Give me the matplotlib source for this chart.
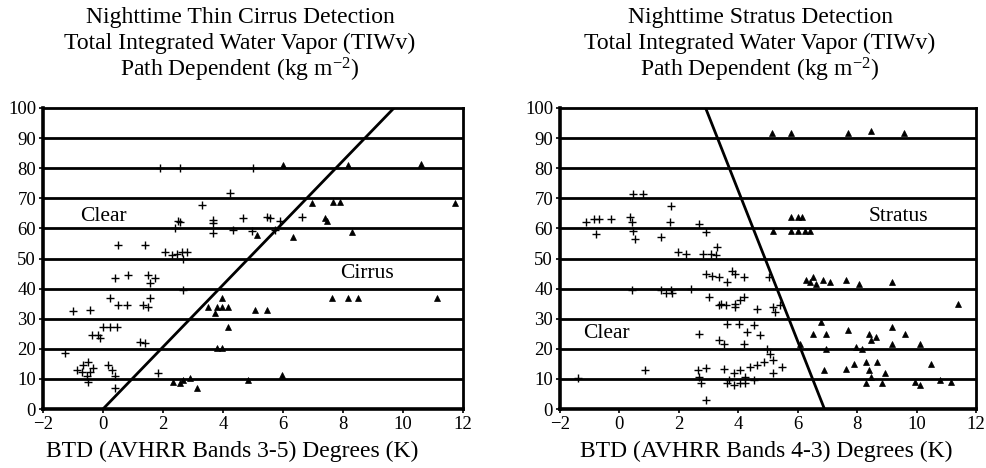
import matplotlib
matplotlib.use("Agg")
import matplotlib.pyplot as plt
import numpy as np

plt.rcParams['font.family'] = ['Liberation Serif', 'DejaVu Serif']
plt.rcParams['mathtext.fontset'] = 'custom'
plt.rcParams['mathtext.rm'] = 'Liberation Serif'
plt.rcParams['mathtext.it'] = 'Liberation Serif:italic'

# ---------------- Nighttime thin cirrus (BTD bands 3-5) ----------------
cirrus_clear_x = [0.51, 1.4, 2.07, 2.29, 2.46, 2.62, 2.79, 2.68,
                  0.4, 0.84, 1.51, 1.73, 1.57,
                  0.23, 0.51, 0.79, 1.34, 1.57, 1.51,
                  -0.99, -0.43, 0.01, 0.23, 0.46, -0.38, -0.16, -0.1,
                  -1.27, 1.23, 1.4,
                  -0.88, -0.66, -0.49, -0.43, -0.54, -0.32, -0.49, -0.71,
                  0.18, 0.29, 0.4, 0.4, 1.84,
                  2.51, 2.4, 3.68, 3.68, 4.34, 4.68, 4.96, 5.46, 5.57, 5.9, 5.73, 6.62,
                  3.29, 4.23, 1.9, 2.57, 5.0, 2.57, 3.67, 2.68]
cirrus_clear_y = [54.5, 54.5, 52, 51, 51.5, 52.3, 52.3, 49.7,
                  43.4, 44.5, 44.5, 43.4, 41.8,
                  36.8, 34.6, 34.6, 34.6, 36.8, 34,
                  32.4, 32.9, 27.4, 27.4, 27.4, 24.6, 24.6, 23.5,
                  18.5, 22.4, 21.8,
                  13, 14.6, 15.7, 12.4, 10.8, 13.5, 9.1, 12.4,
                  14.6, 13, 10.8, 6.9, 11.9,
                  62.3, 60, 62.8, 58.4, 59.5, 63.4, 59, 63.9, 63.4, 62.3, 59.5, 63.9,
                  67.8, 71.7, 80, 80, 80, 62, 61.8, 39.6]

cirrus_cloud_x = [6.96, 7.68, 7.9, 11.75, 7.4, 7.46, 5.12, 6.34, 8.29,
                  3.96, 3.51, 3.79, 3.96, 4.18, 3.73, 4.18, 5.07, 5.46,
                  7.62, 8.18, 8.51, 11.12, 3.79, 3.96,
                  2.34, 2.68, 2.9, 3.12, 2.57, 4.84, 5.96,
                  6.0, 8.17, 10.6]
cirrus_cloud_y = [68.3, 68.9, 68.9, 68.5, 63.4, 62.3, 57.8, 57.3, 58.9,
                  36.8, 34, 34, 34, 34, 31.8, 27.4, 32.9, 32.9,
                  36.8, 36.8, 36.8, 36.8, 20.2, 20.2,
                  9.1, 9.7, 10.2, 6.9, 8.5, 9.7, 11.3,
                  81, 81, 81.5]

cirrus_threshold_x = [0.0, 9.7]
cirrus_threshold_y = [0, 100]

# ---------------- Nighttime stratus (BTD bands 4-3) ----------------
stratus_clear_x = [-1.13, -0.86, -0.69, -0.3, 0.36, 0.42, 0.47, 0.53, -0.8, 1.41, 1.69,
                   2.69, 2.91, 1.75, 0.47, 0.8,
                   1.97, 2.25, 2.8, 3.08, 3.3, 3.24,
                   2.91, 3.13, 3.35, 3.63, 3.9, 4.19, 3.8, 0.42, 1.41, 1.75, 2.41, 5.02,
                   1.56, 1.77,
                   3.02, 3.35, 3.58, 3.9, 4.07, 4.19, 4.63, 5.18, 5.24, 5.4, 3.42, 3.89,
                   2.69, 3.63, 4.02, 4.3, 4.52, 4.74, 3.35, 3.52, 4.19, 4.96, 5.07,
                   5.18, 4.85, 4.63,
                   0.86, 2.63, 2.69, 2.74, 2.91, 3.52, 3.69, 3.85, 4.07, 4.24, 4.41,
                   4.52, 4.07, 3.63, 4.24, 3.85, 5.18, 5.46, -1.4, 2.93]
stratus_clear_y = [62, 63.1, 63.1, 63.1, 63.7, 62, 59.2, 56.5, 58.1, 57, 62,
                   61.5, 58.7, 67.5, 71.4, 71.4,
                   52, 51.5, 51.5, 51.5, 53.7, 51,
                   44.9, 44.3, 43.8, 42.1, 44.9, 43.8, 46, 39.4, 39.4, 39.4, 40, 43.8,
                   38.7, 38.7,
                   37.2, 34.4, 34.4, 33.9, 36.1, 37.2, 33.3, 33.9, 32.2, 34.4, 35, 35,
                   25, 28.3, 28.3, 25.6, 27.8, 24.5, 22.8, 21.7, 21.7, 20, 18.4,
                   16.2, 15.7, 14.5,
                   12.9, 12.9, 10.7, 8.5, 3, 13.4, 9.6, 11.8, 12.9, 10.7, 14,
                   9.6, 8.5, 8.5, 8.5, 7.9, 11.8, 14, 10.2, 13.6]

stratus_cloud_x = [5.15, 5.76, 7.7, 8.48, 9.58,
                   5.79, 6.0, 6.13, 5.18, 5.79, 6.0, 6.24, 6.4,
                   6.29, 6.51, 6.4, 6.85, 7.07, 7.62, 8.07, 9.17, 6.62,
                   11.39,
                   6.79, 6.51, 6.96, 7.68, 8.4, 8.62, 9.17, 9.62, 6.07, 6.96, 7.96,
                   8.18, 9.17, 10.12, 8.45,
                   6.9, 7.62, 7.9, 8.29, 8.68, 8.4, 8.45, 8.95, 8.29, 8.84, 9.95,
                   10.12, 10.5, 10.78, 11.17]
stratus_cloud_y = [91.8, 91.8, 91.8, 92.4, 91.8,
                   63.7, 63.7, 63.7, 59.2, 59.2, 59.2, 59.2, 59.2,
                   42.7, 43.8, 42.1, 42.7, 42.1, 42.7, 41.6, 42.1, 41.6,
                   35,
                   28.9, 25, 25, 26.1, 25, 23.9, 27.2, 25, 21.7, 20, 20.6,
                   20, 21.7, 21.7, 22.8,
                   12.9, 13.4, 15.1, 15.7, 15.7, 12.9, 10.7, 11.8, 8.5, 8.5, 9,
                   7.9, 15.1, 9.6, 9]

stratus_threshold_x = [2.9, 6.9]
stratus_threshold_y = [100, 0]

x_ticks = [-2, 0, 2, 4, 6, 8, 10, 12]
y_ticks = [0, 10, 20, 30, 40, 50, 60, 70, 80, 90, 100]

title_line2 = "Total Integrated Water Vapor (TIWv)"
title_line3 = "Path Dependent (kg m$^{-2}$)"

W, H = 987, 468
fig = plt.figure(figsize=(W / 100, H / 100), dpi=100)
ax1 = fig.add_axes([43 / W, 59 / H, 420 / W, 301 / H])
ax2 = fig.add_axes([560 / W, 59 / H, 416 / W, 301 / H])


def style_panel(ax):
    ax.set_xlim(-2, 12)
    ax.set_ylim(0, 100)
    ax.set_xticks(x_ticks)
    ax.set_yticks(y_ticks)
    ax.set_xticklabels(["\u22122" if t < 0 else str(t) for t in x_ticks])
    for y in y_ticks[1:-1]:
        ax.axhline(y, color="black", lw=2.0, zorder=1)
    for side in ["left", "bottom"]:
        ax.spines[side].set_linewidth(2.6)
    for side in ["top", "right"]:
        ax.spines[side].set_linewidth(2.0)
    ax.tick_params(axis="both", length=3, width=1.2, labelsize=13.5, pad=2)


for ax, cx, cy, kx, ky, lx, ly in [
    (ax1, cirrus_clear_x, cirrus_clear_y, cirrus_cloud_x, cirrus_cloud_y,
     cirrus_threshold_x, cirrus_threshold_y),
    (ax2, stratus_clear_x, stratus_clear_y, stratus_cloud_x, stratus_cloud_y,
     stratus_threshold_x, stratus_threshold_y),
]:
    style_panel(ax)
    ax.plot(cx, cy, ls="none", marker="+", ms=5.5, mew=1.0, color="black", zorder=3)
    ax.plot(kx, ky, ls="none", marker="^", ms=4.5, mew=0.5, color="black", zorder=3)
    ax.plot(lx, ly, color="black", lw=2.0, zorder=4, solid_capstyle="butt")

ax1.text(0.0, 64, "Clear", fontsize=15.5, ha="center", va="center")
ax1.text(8.8, 45, "Cirrus", fontsize=15.5, ha="center", va="center")
ax2.text(9.4, 64, "Stratus", fontsize=15.5, ha="center", va="center")
ax2.text(-0.45, 25, "Clear", fontsize=15.5, ha="center", va="center")

for cx_px, head, xlabel in [(240, "Nighttime Thin Cirrus Detection",
                             "BTD (AVHRR Bands 3-5) Degrees (K)"),
                            (760, "Nighttime Stratus Detection",
                             "BTD (AVHRR Bands 4-3) Degrees (K)")]:
    xf = cx_px / W
    fig.text(xf, 1 - 17 / H, head, fontsize=17, ha="center", va="center")
    fig.text(xf, 1 - 43 / H, title_line2, fontsize=17, ha="center", va="center")
    fig.text(xf, 1 - 70 / H, title_line3, fontsize=17, ha="center", va="center")
    fig.text(xf - (8 if cx_px < 500 else -6) / W, 1 - 451 / H, xlabel,
             fontsize=17, ha="center", va="center")

fig.savefig("out.png", dpi=100)
